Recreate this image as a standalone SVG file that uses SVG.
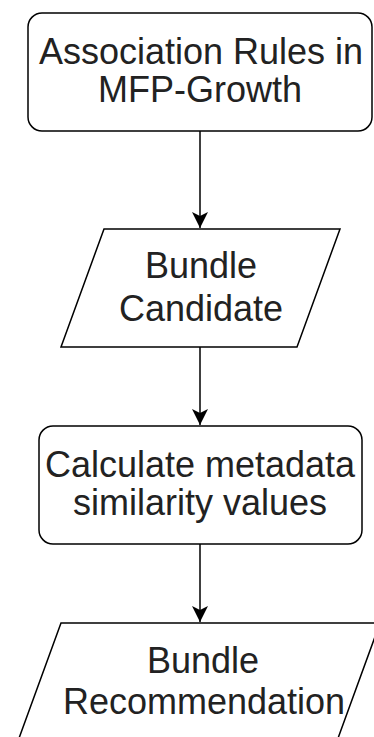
<svg xmlns="http://www.w3.org/2000/svg" width="374" height="737" viewBox="0 0 374 737">
  <style>
    .shape { fill: #ffffff; stroke: #000000; stroke-width: 1.5; }
    .edge { fill: none; stroke: #000000; stroke-width: 1.5; }
    .label { font-family: "Liberation Sans", Arial, sans-serif; font-size: 36px; fill: #222222; text-anchor: middle; }
  </style>
  <defs>
    <marker id="arrow" markerUnits="userSpaceOnUse" markerWidth="18" markerHeight="18" viewBox="0 0 18 18" refX="16" refY="9" orient="auto">
      <path d="M0,1 L16,9 L0,17 L4,9 Z" fill="#000000"/>
    </marker>
  </defs>

  <rect width="374" height="737" fill="#ffffff"/>

  <!-- flow connectors -->
  <g id="connectors">
    <line class="edge" x1="200" y1="131" x2="200" y2="228" marker-end="url(#arrow)"/>
    <line class="edge" x1="200" y1="347" x2="200" y2="425" marker-end="url(#arrow)"/>
    <line class="edge" x1="200" y1="544" x2="200" y2="622" marker-end="url(#arrow)"/>
  </g>

  <!-- process: association rules -->
  <g id="node-association-rules">
    <rect class="shape" x="28" y="13" width="344" height="118" rx="14" ry="14"/>
    <text class="label" x="201" y="64">Association Rules in</text>
    <text class="label" x="200" y="102">MFP-Growth</text>
  </g>

  <!-- data: bundle candidate -->
  <g id="node-bundle-candidate">
    <polygon class="shape" points="104,229 340,229 297,347 61,347"/>
    <text class="label" x="201" y="278">Bundle</text>
    <text class="label" x="201" y="321">Candidate</text>
  </g>

  <!-- process: similarity calculation -->
  <g id="node-calculate-similarity">
    <rect class="shape" x="39" y="426" width="323" height="118" rx="14" ry="14"/>
    <text class="label" x="200" y="477">Calculate metadata</text>
    <text class="label" x="200" y="515">similarity values</text>
  </g>

  <!-- data: bundle recommendation -->
  <g id="node-bundle-recommendation">
    <polygon class="shape" points="61,623 380,623 337,741 18,741"/>
    <text class="label" x="203" y="673">Bundle</text>
    <text class="label" x="204" y="714">Recommendation</text>
  </g>
</svg>
